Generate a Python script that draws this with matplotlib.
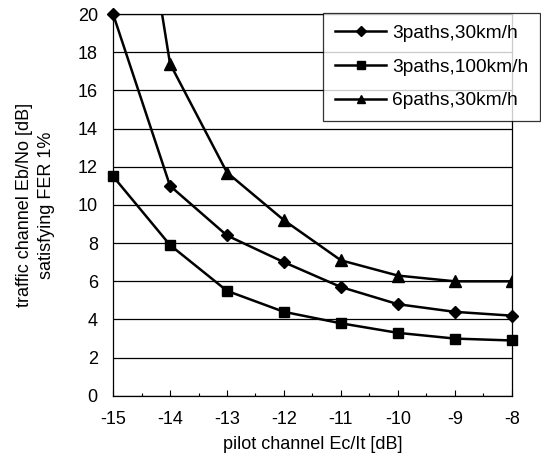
import matplotlib
matplotlib.use('Agg')
import matplotlib.pyplot as plt
from matplotlib.ticker import MultipleLocator

plt.rcParams['font.family'] = ['Liberation Sans', 'DejaVu Sans']
plt.rcParams['axes.unicode_minus'] = False

# pilot channel Ec/It [dB]
ec_it = [-15, -14, -13, -12, -11, -10, -9, -8]

# traffic channel Eb/No [dB] satisfying FER 1%
p3_30 = [20.0, 11.0, 8.4, 7.0, 5.7, 4.8, 4.4, 4.2]
p3_100 = [11.5, 7.9, 5.5, 4.4, 3.8, 3.3, 3.0, 2.9]
p6_30 = [36.0, 17.4, 11.7, 9.2, 7.1, 6.3, 6.0, 6.0]   # first point off the top

labels = ['3paths,30km/h', '3paths,100km/h', '6paths,30km/h']

fig = plt.figure(figsize=(5.41, 4.69), dpi=100)
ax = fig.add_axes([0.209, 0.156, 0.737, 0.814])

ax.plot(ec_it, p3_30, color='black', lw=1.8, marker='D', ms=6.5,
        label=labels[0], clip_on=False, zorder=3)
ax.plot(ec_it, p3_100, color='black', lw=1.8, marker='s', ms=7,
        label=labels[1], clip_on=False, zorder=3)
ax.plot(ec_it, p6_30, color='black', lw=1.8, marker='^', ms=8,
        label=labels[2], zorder=3)

ax.set_xlim(-15, -8)
ax.set_ylim(0, 20)
ax.set_xticks(ec_it)
ax.set_xticklabels([str(v) for v in ec_it])
ax.set_yticks(range(0, 21, 2))
ax.xaxis.set_minor_locator(MultipleLocator(0.5))
ax.tick_params(axis='x', direction='in', length=4, width=0.8, labelsize=13, pad=11)
ax.tick_params(axis='x', which='minor', direction='in', length=2.5, width=0.8)
ax.tick_params(axis='y', length=0, labelsize=13, pad=11)

ax.grid(axis='y', color='black', lw=0.9)
for s in ax.spines.values():
    s.set_linewidth(0.9)

ax.set_xlabel('pilot channel Ec/It [dB]', fontsize=13, labelpad=6)
ax.set_ylabel('traffic channel Eb/No [dB]\nsatisfying FER 1%', fontsize=13,
              labelpad=16, linespacing=1.45)

leg = ax.legend(loc='upper right', bbox_to_anchor=(0.998, 0.972),
                bbox_transform=fig.transFigure, fontsize=13.8,
                frameon=True, fancybox=False, edgecolor='black',
                handlelength=2.7, markerscale=0.8, borderpad=0.6,
                labelspacing=0.85, handletextpad=0.3, borderaxespad=0)
leg.get_frame().set_linewidth(0.9)
leg.set_zorder(5)

fig.savefig('out.png', dpi=100)
